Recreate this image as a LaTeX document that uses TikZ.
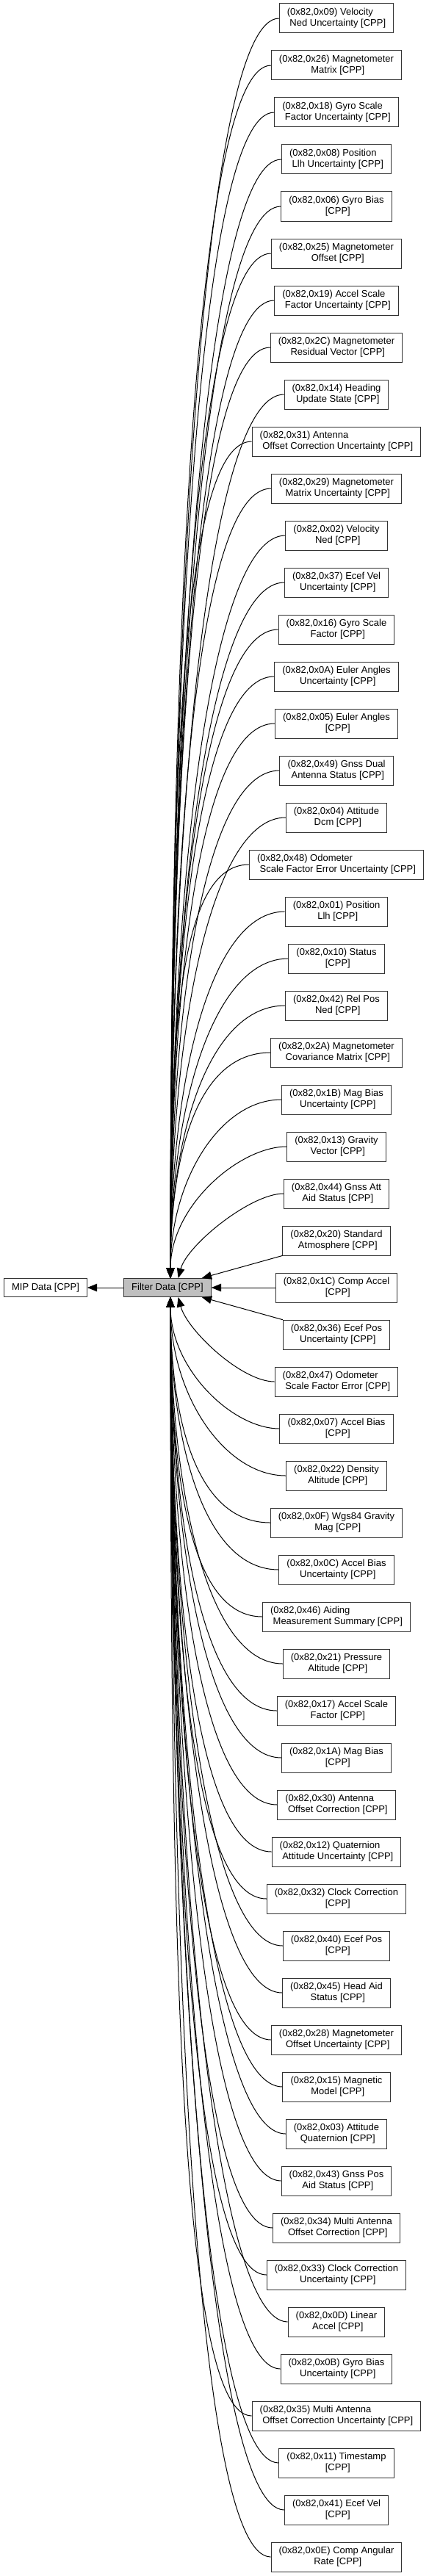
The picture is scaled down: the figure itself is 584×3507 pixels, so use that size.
\documentclass[tikz,border=0pt]{standalone}
\usepackage{fontspec}
\setmainfont{Liberation Sans}
\usetikzlibrary{arrows.meta}
\newcommand{\twoline}[2]{\begin{tabular}{@{}c@{}}\multicolumn{1}{@{}l@{}}{#1}\\\ #2\end{tabular}}
\tikzset{
  grp/.style={rectangle,draw=black!80,line width=0.75pt,fill=white,inner xsep=7.9pt,inner ysep=0pt,minimum height=30pt,font=\fontsize{9.75}{11.25}\selectfont},
  cur/.style={grp,fill=black!25,minimum height=18.75pt},
  top/.style={grp,minimum height=18.75pt},
  dep/.style={-{Triangle[length=10pt,width=8pt]},line width=0.75pt,black}
}
\begin{document}
\begin{tikzpicture}[x=0.75pt,y=-0.75pt]
\useasboundingbox (0,0) rectangle (584,3507);
\node[top] (mip) at (62,1753) {MIP Data [CPP]};
\node[cur] (fd) at (228,1753) {Filter Data [CPP]};
\draw[dep] (fd) -- (mip);
\node[grp] (x09) at (458,25) {\twoline{(0x82,0x09) Velocity}{Ned Uncertainty [CPP]}};
\draw[dep] (x09.west) .. controls +(-100,0) and +(0,-944) .. ([xshift=3pt]fd.north);
\node[grp] (x26) at (458,89) {\twoline{(0x82,0x26) Magnetometer}{Matrix [CPP]}};
\draw[dep] (x26.west) .. controls +(-100,0) and +(0,-909) .. ([xshift=3pt]fd.north);
\node[grp] (x18) at (458,153) {\twoline{(0x82,0x18) Gyro Scale}{Factor Uncertainty [CPP]}};
\draw[dep] (x18.west) .. controls +(-100,0) and +(0,-873) .. ([xshift=3pt]fd.north);
\node[grp] (x08) at (458,217) {\twoline{(0x82,0x08) Position}{Llh Uncertainty [CPP]}};
\draw[dep] (x08.west) .. controls +(-100,0) and +(0,-838) .. ([xshift=3pt]fd.north);
\node[grp] (x06) at (458,281) {\twoline{(0x82,0x06) Gyro Bias}{[CPP]}};
\draw[dep] (x06.west) .. controls +(-100,0) and +(0,-803) .. ([xshift=3pt]fd.north);
\node[grp] (x25) at (458,345) {\twoline{(0x82,0x25) Magnetometer}{Offset [CPP]}};
\draw[dep] (x25.west) .. controls +(-100,0) and +(0,-768) .. ([xshift=3pt]fd.north);
\node[grp] (x19) at (458,409) {\twoline{(0x82,0x19) Accel Scale}{Factor Uncertainty [CPP]}};
\draw[dep] (x19.west) .. controls +(-100,0) and +(0,-733) .. ([xshift=3pt]fd.north);
\node[grp] (x2C) at (458,473) {\twoline{(0x82,0x2C) Magnetometer}{Residual Vector [CPP]}};
\draw[dep] (x2C.west) .. controls +(-100,0) and +(0,-697) .. ([xshift=3pt]fd.north);
\node[grp] (x14) at (458,537) {\twoline{(0x82,0x14) Heading}{Update State [CPP]}};
\draw[dep] (x14.west) .. controls +(-100,0) and +(0,-662) .. ([xshift=3pt]fd.north);
\node[grp] (x31) at (458,601) {\twoline{(0x82,0x31) Antenna}{Offset Correction Uncertainty [CPP]}};
\draw[dep] (x31.west) .. controls +(-100,0) and +(0,-627) .. ([xshift=3pt]fd.north);
\node[grp] (x29) at (458,665) {\twoline{(0x82,0x29) Magnetometer}{Matrix Uncertainty [CPP]}};
\draw[dep] (x29.west) .. controls +(-100,0) and +(0,-592) .. ([xshift=3pt]fd.north);
\node[grp] (x02) at (458,729) {\twoline{(0x82,0x02) Velocity}{Ned [CPP]}};
\draw[dep] (x02.west) .. controls +(-100,0) and +(0,-557) .. ([xshift=3pt]fd.north);
\node[grp] (x37) at (458,793) {\twoline{(0x82,0x37) Ecef Vel}{Uncertainty [CPP]}};
\draw[dep] (x37.west) .. controls +(-100,0) and +(0,-521) .. ([xshift=3pt]fd.north);
\node[grp] (x16) at (458,857) {\twoline{(0x82,0x16) Gyro Scale}{Factor [CPP]}};
\draw[dep] (x16.west) .. controls +(-100,0) and +(0,-486) .. ([xshift=3pt]fd.north);
\node[grp] (x0A) at (458,921) {\twoline{(0x82,0x0A) Euler Angles}{Uncertainty [CPP]}};
\draw[dep] (x0A.west) .. controls +(-100,0) and +(0,-451) .. ([xshift=3pt]fd.north);
\node[grp] (x05) at (458,985) {\twoline{(0x82,0x05) Euler Angles}{[CPP]}};
\draw[dep] (x05.west) .. controls +(-100,0) and +(0,-416) .. ([xshift=3pt]fd.north);
\node[grp] (x49) at (458,1049) {\twoline{(0x82,0x49) Gnss Dual}{Antenna Status [CPP]}};
\draw[dep] (x49.west) .. controls +(-100,0) and +(0,-381) .. ([xshift=3pt]fd.north);
\node[grp] (x04) at (458,1113) {\twoline{(0x82,0x04) Attitude}{Dcm [CPP]}};
\draw[dep] (x04.west) .. controls +(-100,0) and +(0,-345) .. ([xshift=3pt]fd.north);
\node[grp] (x48) at (458,1177) {\twoline{(0x82,0x48) Odometer}{Scale Factor Error Uncertainty [CPP]}};
\draw[dep] (x48.west) .. controls +(-100,0) and +(0,-310) .. ([xshift=3pt]fd.north);
\node[grp] (x01) at (458,1241) {\twoline{(0x82,0x01) Position}{Llh [CPP]}};
\draw[dep] (x01.west) .. controls +(-100,0) and +(0,-275) .. ([xshift=3pt]fd.north);
\node[grp] (x10) at (458,1305) {\twoline{(0x82,0x10) Status}{[CPP]}};
\draw[dep] (x10.west) .. controls +(-100,0) and +(0,-240) .. ([xshift=3pt]fd.north);
\node[grp] (x42) at (458,1369) {\twoline{(0x82,0x42) Rel Pos}{Ned [CPP]}};
\draw[dep] (x42.west) .. controls +(-100,0) and +(0,-205) .. ([xshift=3pt]fd.north);
\node[grp] (x2A) at (458,1433) {\twoline{(0x82,0x2A) Magnetometer}{Covariance Matrix [CPP]}};
\draw[dep] (x2A.west) .. controls +(-100,0) and +(0,-169) .. ([xshift=3pt]fd.north);
\node[grp] (x1B) at (458,1497) {\twoline{(0x82,0x1B) Mag Bias}{Uncertainty [CPP]}};
\draw[dep] (x1B.west) .. controls +(-83,0) and +(0,-134) .. ([xshift=3pt]fd.north);
\node[grp] (x13) at (458,1561) {\twoline{(0x82,0x13) Gravity}{Vector [CPP]}};
\draw[dep] (x13.west) .. controls +(-64,0) and +(0,-99) .. ([xshift=3pt]fd.north);
\node[grp] (x44) at (458,1625) {\twoline{(0x82,0x44) Gnss Att}{Aid Status [CPP]}};
\draw[dep] (x44.west) .. controls +(-45,0) and +(12,-45) .. ([xshift=11pt]fd.north);
\node[grp] (x20) at (458,1689) {\twoline{(0x82,0x20) Standard}{Atmosphere [CPP]}};
\draw[dep] (x20) -- (fd);
\node[grp] (x1C) at (458,1753) {\twoline{(0x82,0x1C) Comp Accel}{[CPP]}};
\draw[dep] (x1C) -- (fd);
\node[grp] (x36) at (458,1817) {\twoline{(0x82,0x36) Ecef Pos}{Uncertainty [CPP]}};
\draw[dep] (x36) -- (fd);
\node[grp] (x47) at (458,1881) {\twoline{(0x82,0x47) Odometer}{Scale Factor Error [CPP]}};
\draw[dep] (x47.west) .. controls +(-45,0) and +(12,45) .. ([xshift=11pt]fd.south);
\node[grp] (x07) at (458,1945) {\twoline{(0x82,0x07) Accel Bias}{[CPP]}};
\draw[dep] (x07.west) .. controls +(-64,0) and +(0,98) .. ([xshift=3pt]fd.south);
\node[grp] (x22) at (458,2009) {\twoline{(0x82,0x22) Density}{Altitude [CPP]}};
\draw[dep] (x22.west) .. controls +(-83,0) and +(0,134) .. ([xshift=3pt]fd.south);
\node[grp] (x0F) at (458,2073) {\twoline{(0x82,0x0F) Wgs84 Gravity}{Mag [CPP]}};
\draw[dep] (x0F.west) .. controls +(-100,0) and +(0,169) .. ([xshift=3pt]fd.south);
\node[grp] (x0C) at (458,2137) {\twoline{(0x82,0x0C) Accel Bias}{Uncertainty [CPP]}};
\draw[dep] (x0C.west) .. controls +(-100,0) and +(0,204) .. ([xshift=3pt]fd.south);
\node[grp] (x46) at (458,2201) {\twoline{(0x82,0x46) Aiding}{Measurement Summary [CPP]}};
\draw[dep] (x46.west) .. controls +(-100,0) and +(0,239) .. ([xshift=3pt]fd.south);
\node[grp] (x21) at (458,2265) {\twoline{(0x82,0x21) Pressure}{Altitude [CPP]}};
\draw[dep] (x21.west) .. controls +(-100,0) and +(0,274) .. ([xshift=3pt]fd.south);
\node[grp] (x17) at (458,2329) {\twoline{(0x82,0x17) Accel Scale}{Factor [CPP]}};
\draw[dep] (x17.west) .. controls +(-100,0) and +(0,310) .. ([xshift=3pt]fd.south);
\node[grp] (x1A) at (458,2393) {\twoline{(0x82,0x1A) Mag Bias}{[CPP]}};
\draw[dep] (x1A.west) .. controls +(-100,0) and +(0,345) .. ([xshift=3pt]fd.south);
\node[grp] (x30) at (458,2457) {\twoline{(0x82,0x30) Antenna}{Offset Correction [CPP]}};
\draw[dep] (x30.west) .. controls +(-100,0) and +(0,380) .. ([xshift=3pt]fd.south);
\node[grp] (x12) at (458,2521) {\twoline{(0x82,0x12) Quaternion}{Attitude Uncertainty [CPP]}};
\draw[dep] (x12.west) .. controls +(-100,0) and +(0,415) .. ([xshift=3pt]fd.south);
\node[grp] (x32) at (458,2585) {\twoline{(0x82,0x32) Clock Correction}{[CPP]}};
\draw[dep] (x32.west) .. controls +(-100,0) and +(0,450) .. ([xshift=3pt]fd.south);
\node[grp] (x40) at (458,2649) {\twoline{(0x82,0x40) Ecef Pos}{[CPP]}};
\draw[dep] (x40.west) .. controls +(-100,0) and +(0,486) .. ([xshift=3pt]fd.south);
\node[grp] (x45) at (458,2713) {\twoline{(0x82,0x45) Head Aid}{Status [CPP]}};
\draw[dep] (x45.west) .. controls +(-100,0) and +(0,521) .. ([xshift=3pt]fd.south);
\node[grp] (x28) at (458,2777) {\twoline{(0x82,0x28) Magnetometer}{Offset Uncertainty [CPP]}};
\draw[dep] (x28.west) .. controls +(-100,0) and +(0,556) .. ([xshift=3pt]fd.south);
\node[grp] (x15) at (458,2841) {\twoline{(0x82,0x15) Magnetic}{Model [CPP]}};
\draw[dep] (x15.west) .. controls +(-100,0) and +(0,591) .. ([xshift=3pt]fd.south);
\node[grp] (x03) at (458,2905) {\twoline{(0x82,0x03) Attitude}{Quaternion [CPP]}};
\draw[dep] (x03.west) .. controls +(-100,0) and +(0,626) .. ([xshift=3pt]fd.south);
\node[grp] (x43) at (458,2969) {\twoline{(0x82,0x43) Gnss Pos}{Aid Status [CPP]}};
\draw[dep] (x43.west) .. controls +(-100,0) and +(0,662) .. ([xshift=3pt]fd.south);
\node[grp] (x34) at (458,3033) {\twoline{(0x82,0x34) Multi Antenna}{Offset Correction [CPP]}};
\draw[dep] (x34.west) .. controls +(-100,0) and +(0,697) .. ([xshift=3pt]fd.south);
\node[grp] (x33) at (458,3097) {\twoline{(0x82,0x33) Clock Correction}{Uncertainty [CPP]}};
\draw[dep] (x33.west) .. controls +(-100,0) and +(0,732) .. ([xshift=3pt]fd.south);
\node[grp] (x0D) at (458,3161) {\twoline{(0x82,0x0D) Linear}{Accel [CPP]}};
\draw[dep] (x0D.west) .. controls +(-100,0) and +(0,767) .. ([xshift=3pt]fd.south);
\node[grp] (x0B) at (458,3225) {\twoline{(0x82,0x0B) Gyro Bias}{Uncertainty [CPP]}};
\draw[dep] (x0B.west) .. controls +(-100,0) and +(0,802) .. ([xshift=3pt]fd.south);
\node[grp] (x35) at (458,3289) {\twoline{(0x82,0x35) Multi Antenna}{Offset Correction Uncertainty [CPP]}};
\draw[dep] (x35.west) .. controls +(-100,0) and +(0,838) .. ([xshift=3pt]fd.south);
\node[grp] (x11) at (458,3353) {\twoline{(0x82,0x11) Timestamp}{[CPP]}};
\draw[dep] (x11.west) .. controls +(-100,0) and +(0,873) .. ([xshift=3pt]fd.south);
\node[grp] (x41) at (458,3417) {\twoline{(0x82,0x41) Ecef Vel}{[CPP]}};
\draw[dep] (x41.west) .. controls +(-100,0) and +(0,908) .. ([xshift=3pt]fd.south);
\node[grp] (x0E) at (458,3481) {\twoline{(0x82,0x0E) Comp Angular}{Rate [CPP]}};
\draw[dep] (x0E.west) .. controls +(-100,0) and +(0,943) .. ([xshift=3pt]fd.south);
\end{tikzpicture}
\end{document}
